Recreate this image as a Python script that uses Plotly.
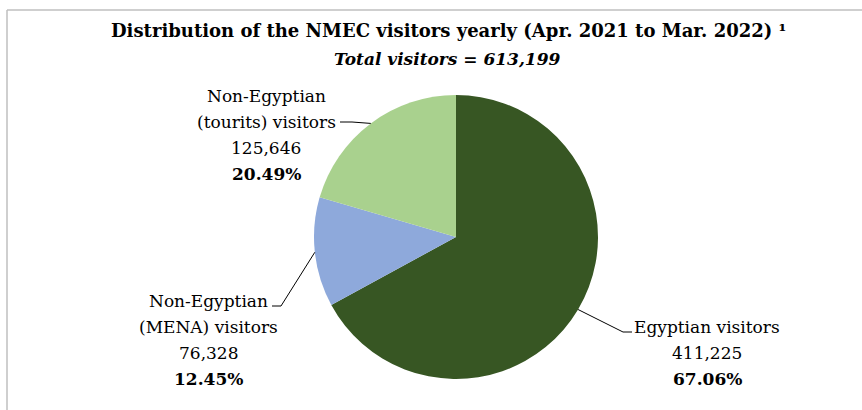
import math
import plotly.graph_objects as go

# ---- data ----
categories = ["Egyptian visitors", "Non-Egyptian (MENA) visitors", "Non-Egyptian (tourits) visitors"]
label_lines = [["Egyptian visitors"], ["Non-Egyptian", "(MENA) visitors"], ["Non-Egyptian", "(tourits) visitors"]]
values = [411225, 76328, 125646]
percents = ["67.06%", "12.45%", "20.49%"]
colors = ["#375623", "#8EA9DB", "#A9D18E"]
title_line1 = "Distribution of the NMEC visitors yearly (Apr. 2021 to Mar. 2022) ¹"
title_line2 = "Total visitors = 613,199"

W, H = 862, 410
FONT = "DejaVu Serif"

# pie geometry in pixels
cx, cy, r = 456, 237, 142

def px(x):
    return x / W

def py(y):
    return 1 - y / H

fig = go.Figure(go.Pie(
    labels=categories, values=values, sort=False, direction="clockwise", rotation=0,
    marker=dict(colors=colors, line=dict(width=0)), textinfo="none", hoverinfo="label+value+percent",
    showlegend=False,
    domain=dict(x=[px(cx - r), px(cx + r)], y=[py(cy + r), py(cy - r)]),
))

# label placement (pixels): center x, first-line y, leader elbow + end
label_pos = [
    dict(x=707, y=327, elbow=(623, 332), end=(632, 332)),
    dict(x=208, y=301, elbow=(281, 306), end=(272, 306)),
    dict(x=266, y=96, elbow=(352, 122), end=(340, 122)),
]
STEP = 26

total = sum(values)
cum = 0
annotations = []
shapes = []
for i, v in enumerate(values):
    mid = (cum + v / 2) / total * 2 * math.pi
    cum += v
    sx = cx + r * math.sin(mid)
    sy = cy - r * math.cos(mid)
    lp = label_pos[i]
    lines = label_lines[i] + [f"{v:,}", f"<b>{percents[i]}</b>"]
    for k, t in enumerate(lines):
        annotations.append(dict(
            x=px(lp["x"]), y=py(lp["y"] + k * STEP), xref="paper", yref="paper", text=t,
            showarrow=False, align="center", xanchor="center", yanchor="middle",
            font=dict(family=FONT, size=17, color="#000000"),
        ))
    ex, ey = lp["elbow"]
    tx, ty = lp["end"]
    path = f"M {px(sx)} {py(sy)} L {px(ex)} {py(ey)} L {px(tx)} {py(ty)}"
    shapes.append(dict(type="path", xref="paper", yref="paper", path=path,
                       line=dict(color="#000000", width=1)))

annotations.append(dict(x=px(449), y=py(31), xref="paper", yref="paper",
                        text=f"<b>{title_line1}</b>", showarrow=False,
                        xanchor="center", yanchor="middle",
                        font=dict(family=FONT, size=18, color="#000000")))
annotations.append(dict(x=px(447), y=py(59), xref="paper", yref="paper",
                        text=f"<b><i>{title_line2}</i></b>", showarrow=False,
                        xanchor="center", yanchor="middle",
                        font=dict(family=FONT, size=17, color="#000000")))

# chart-area border (top and left visible)
shapes.append(dict(type="line", xref="paper", yref="paper", x0=px(7), y0=py(10), x1=1, y1=py(10),
                   line=dict(color="#BFBFBF", width=1.5)))
shapes.append(dict(type="line", xref="paper", yref="paper", x0=px(7), y0=py(10), x1=px(7), y1=0,
                   line=dict(color="#BFBFBF", width=1.5)))

fig.update_layout(
    width=W, height=H, margin=dict(l=0, r=0, t=0, b=0),
    paper_bgcolor="white", plot_bgcolor="white",
    annotations=annotations, shapes=shapes,
)

fig.write_html("out.html")
